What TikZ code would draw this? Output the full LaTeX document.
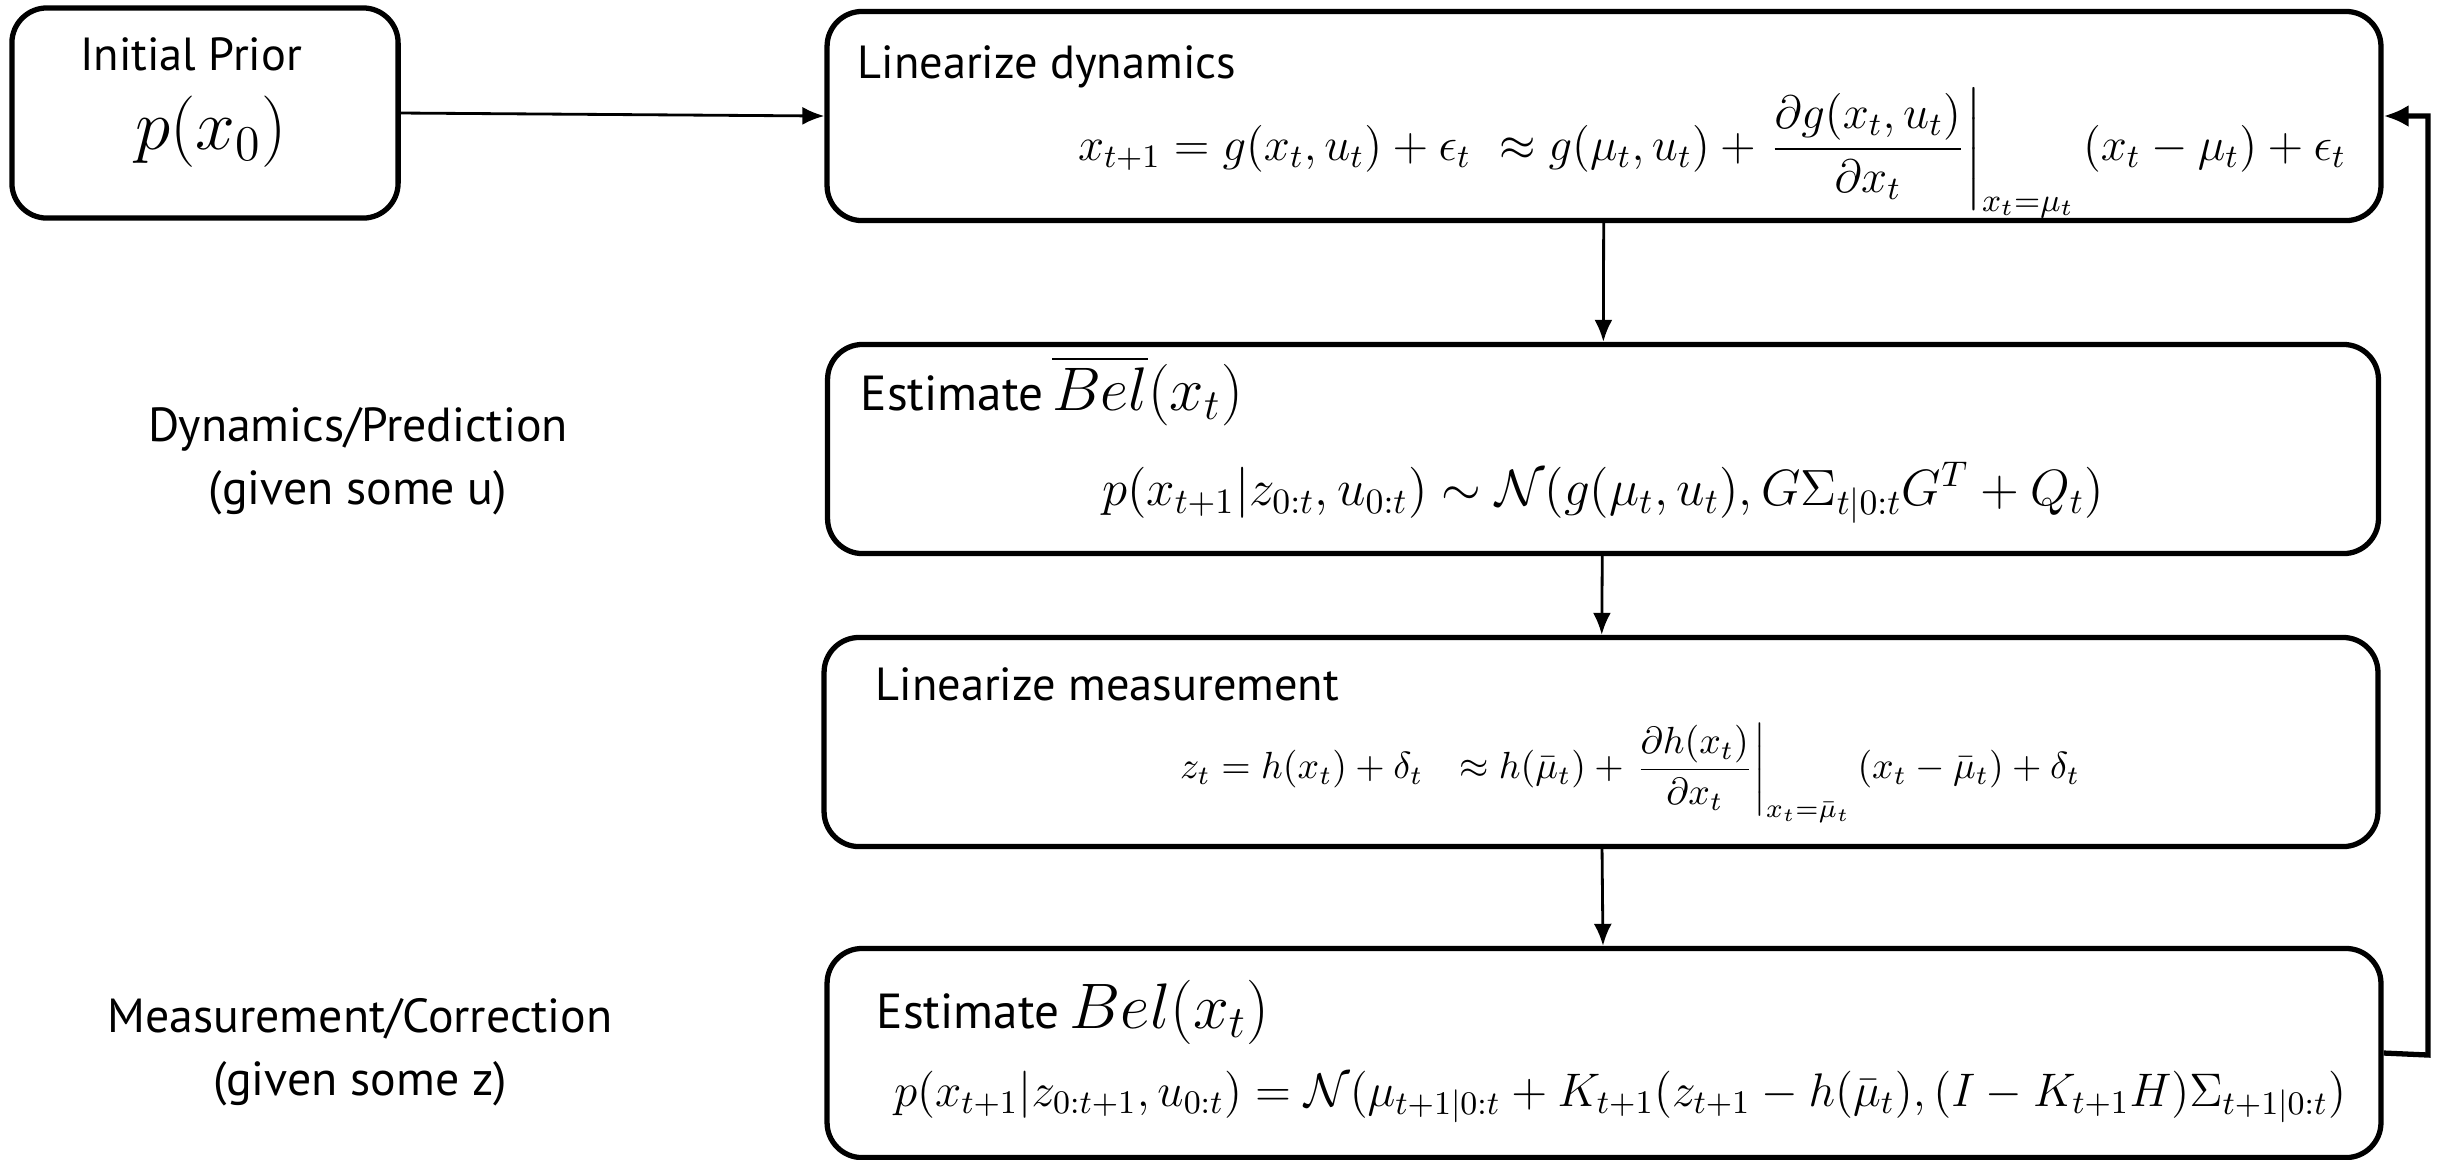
\RequirePackage{fix-cm}
\documentclass[tikz,border=0pt]{standalone}
\usepackage{amsmath}
\usepackage{fontspec}
\newfontfamily\labelfont{PT Sans}
\usetikzlibrary{positioning,arrows.meta}

\begin{document}
\begin{tikzpicture}[
  x=0.01cm, y=-0.01cm,
  every node/.style={font=\labelfont\fontsize{13.2}{15}\selectfont},
  stage/.style={rectangle,draw,line width=1.5pt,rounded corners=0.35cm,minimum width=15.53cm,minimum height=2.09cm},
  title/.style={anchor=base west,inner sep=0pt},
  eqn/.style={inner sep=0pt,font=\fontsize{13.3}{16}\selectfont},
  bigeqn/.style={inner sep=0pt,font=\fontsize{14.5}{18}\selectfont},
  side/.style={align=center,font=\labelfont\fontsize{13.6}{18}\selectfont},
  arr/.style={-{Latex[length=0.22cm,width=0.18cm]}, line width=0.8pt},
  fb/.style={-{Latex[length=0.25cm,width=0.22cm]}, line width=1.5pt}
]
\useasboundingbox (0,0) rectangle (2440,1159);

\node[stage, minimum width=3.86cm, minimum height=2.1cm] (prior) at (205,113) {};
\node[stage] (dyn)  at (1604,116) {};
\node[stage, minimum width=15.5cm] (pred) at (1603,449) {};
\node[stage] (linm) at (1601,742) {};
\node[stage] (corr) at (1604,1053) {};

% box contents
\node (priorT) at (191,54) {Initial Prior};
\node[inner sep=0pt, font=\fontsize{20.3}{24}\selectfont] (priorE) at (211,132) {$p(x_0)$};

\node[title] (dynT) at (857,78) {Linearize dynamics};
\node[eqn] (dynE) at (1712,153) {$x_{t+1} = g(x_t,u_t) + \epsilon_t \ \approx g(\mu_t,u_t) + \left.\dfrac{\partial g(x_t,u_t)}{\partial x_t}\right|_{x_t=\mu_t} (x_t-\mu_t) + \epsilon_t$};

\node[title] (predT) at (860,410) {\fontsize{14}{16}\selectfont Estimate\hspace{2.5pt}\fontsize{17.5}{22}\selectfont$\overline{Bel}(x_t)$};
\node[bigeqn] (predE) at (1603,493) {$p(x_{t+1}|z_{0:t},u_{0:t}) \sim \mathcal{N}(g(\mu_t,u_t), G\Sigma_{t|0:t}G^T + Q_t)$};

\node[title] (linmT) at (875,700) {Linearize measurement};
\node[eqn, font=\fontsize{10.75}{14}\selectfont] (linmE) at (1630,773) {$z_t = h(x_t) + \delta_t \ \ \approx h(\bar\mu_t) + \left.\dfrac{\partial h(x_t)}{\partial x_t}\right|_{x_t=\bar\mu_t} (x_t-\bar\mu_t) + \delta_t$};

\node[title] (corrT) at (876,1028) {\fontsize{14}{16}\selectfont Estimate\hspace{3pt}\fontsize{18.3}{22}\selectfont$Bel(x_t)$};
\node[bigeqn, font=\fontsize{13.4}{16}\selectfont] (corrE) at (1620,1097) {$p(x_{t+1}|z_{0:t+1},u_{0:t}) = \mathcal{N}(\mu_{t+1|0:t} + K_{t+1}(z_{t+1} - h(\bar\mu_t),(I-K_{t+1}H)\Sigma_{t+1|0:t})$};

% side labels
\node[side] (predL) at (358,461) {Dynamics/Prediction\\(given some u)};
\node[side] (corrL) at (360,1052) {Measurement/Correction\\(given some z)};

\draw[arr] (prior.east) -- (dyn.west);
\draw[arr] (dyn) -- (pred);
\draw[arr] (pred) -- (linm);
\draw[arr] (linm) -- (corr);

\coordinate (loop) at (2428,1055);
\draw[fb] (corr.east) -- (loop) |- (dyn.east);
\end{tikzpicture}
\end{document}
